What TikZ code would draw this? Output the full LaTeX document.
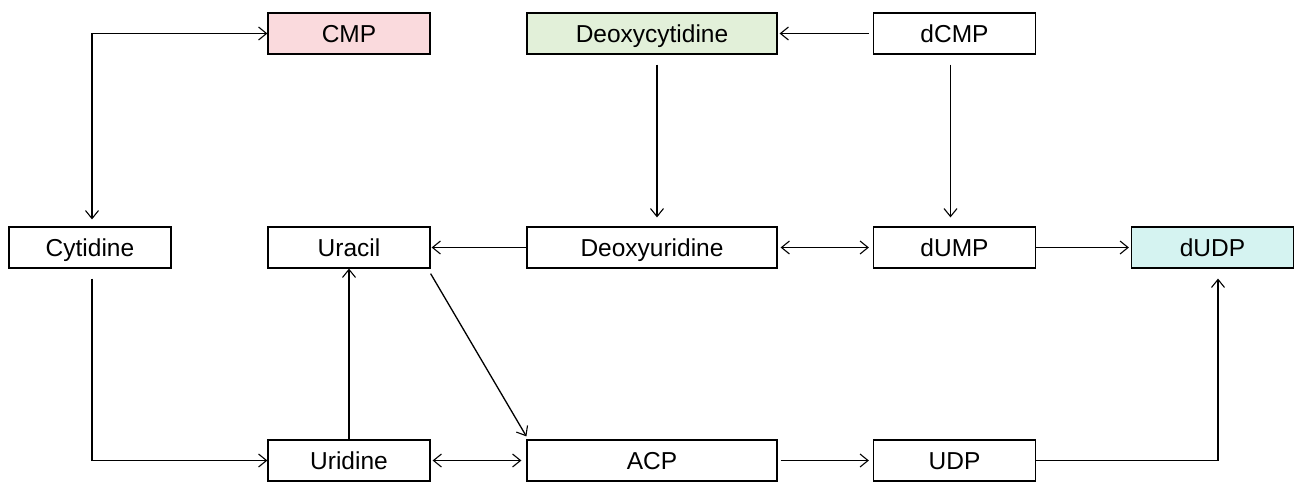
\documentclass[tikz,border=0pt]{standalone}
\usepackage{fontspec}
\setmainfont{Liberation Sans}
\usetikzlibrary{arrows.meta}
\definecolor{pinkfill}{HTML}{FADADD}
\definecolor{greenfill}{HTML}{E2F0D9}
\definecolor{cyanfill}{HTML}{D5F3F1}
\tikzset{
  box/.style={draw=black, line width=1.2pt, minimum height=41pt, inner sep=0pt, font=\fontsize{24.5}{28}\selectfont, text=black, text height=17.5pt, text depth=0pt},
  narrow/.style={box, minimum width=162pt},
  wide/.style={box, minimum width=250pt},
  tip/.tip={Straight Barb[length=8pt,width=13pt,line width=1.1pt]},
  arr/.style={line width=1.3pt, -tip},
  arrb/.style={line width=1.3pt, tip-tip},
}
\begin{document}
\begin{tikzpicture}[x=1pt,y=-1pt]
\useasboundingbox (0,0) rectangle (1295,482);
\node[narrow, fill=pinkfill] (cmp) at (349,33.5) {CMP};
\node[wide, fill=greenfill] (dc) at (652,33.5) {Deoxycytidine};
\node[narrow] (dcmp) at (954.5,33.5) {dCMP};
\node[narrow] (cyt) at (90,247.5) {Cytidine};
\node[narrow] (ura) at (349,247.5) {Uracil};
\node[wide] (du) at (652,247.5) {Deoxyuridine};
\node[narrow] (dump) at (954.5,247.5) {dUMP};
\node[narrow, fill=cyanfill] (dudp) at (1212.5,247.5) {dUDP};
\node[narrow] (urid) at (349,460.5) {Uridine};
\node[wide] (acp) at (652,460.5) {ACP};
\node[narrow] (udp) at (954.5,460.5) {UDP};

\draw[arrb] ([xshift=2pt,yshift=7pt]cyt.north) |- (cmp.west);
\draw[arr] ([xshift=-4pt]dcmp.west) -- ([xshift=2pt]dc.east);
\draw[arr] ([xshift=5pt,yshift=-10pt]dc.south) -- ([xshift=5pt,yshift=9pt]du.north);
\draw[arr] ([xshift=-4pt,yshift=-10pt]dcmp.south) -- ([xshift=-4pt,yshift=9pt]dump.north);
\draw[arr] (du.west) -- ([xshift=1pt]ura.east);
\draw[arrb] ([xshift=3pt]du.east) -- ([xshift=-4pt]dump.west);
\draw[arr] (dump.east) -- ([xshift=-2pt]dudp.west);
\draw[arr] ([xshift=2pt,yshift=-10pt]cyt.south) |- (urid.west);
\draw[arr] (urid.north) -- (ura.south);
\draw[arr] ([yshift=-5pt]ura.south east) -- ([yshift=3pt]acp.north west);
\draw[arrb] ([xshift=2pt]urid.east) -- ([xshift=-5pt]acp.west);
\draw[arr] ([xshift=3pt]acp.east) -- ([xshift=-4pt]udp.west);
\draw[arr] (udp.east) -| ([xshift=5.5pt,yshift=-10pt]dudp.south);
\end{tikzpicture}
\end{document}
